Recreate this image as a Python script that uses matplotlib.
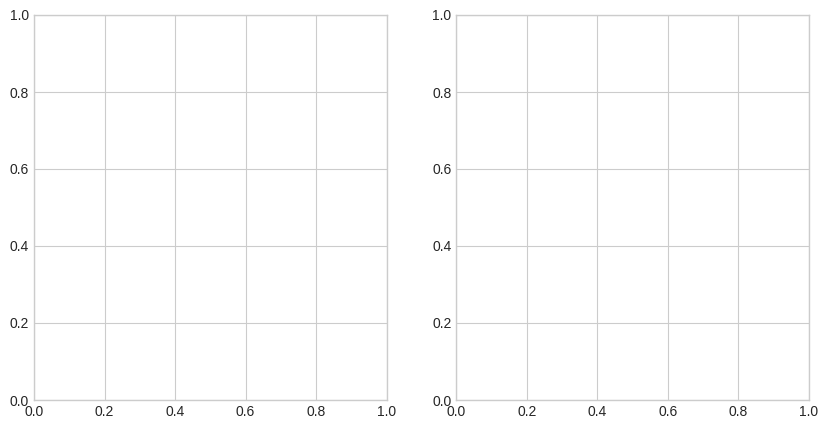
import matplotlib
matplotlib.use("Agg")
import matplotlib.pyplot as plt

plt.style.use("seaborn-v0_8-whitegrid")
plt.rcParams['font.family'] = ['Liberation Sans', 'DejaVu Sans']

xlim = [0.0, 1.0]
ylim = [0.0, 1.0]

fig, axes = plt.subplots(1, 2, figsize=(8.28, 4.29), dpi=100)
fig.subplots_adjust(left=34/828, right=809/828, top=1-15/429, bottom=1-400/429, wspace=70/353)
for ax in axes:
    ax.set_xlim(xlim)
    ax.set_ylim(ylim)
    for s in ax.spines.values():
        s.set_visible(True)
        s.set_color('#cccccc')
fig.savefig("out.png", dpi=100)
